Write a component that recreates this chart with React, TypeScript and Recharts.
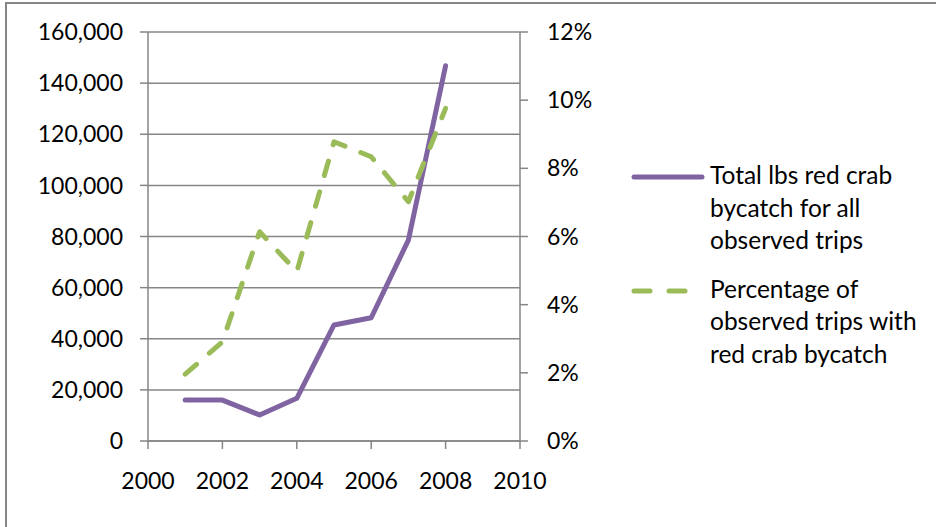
import React from "react";
import { LineChart, Line, XAxis, YAxis, CartesianGrid } from "recharts";

const years = [2001, 2002, 2003, 2004, 2005, 2006, 2007, 2008];
const totalLbs = [16000, 16000, 10200, 16700, 45400, 48200, 78600, 146800];
const pctTrips = [1.96, 2.91, 6.14, 4.97, 8.78, 8.34, 7.02, 9.76];
const xTicks = [2000, 2002, 2004, 2006, 2008, 2010];
const leftTicks = [0, 20000, 40000, 60000, 80000, 100000, 120000, 140000, 160000];
const rightTicks = [0, 2, 4, 6, 8, 10, 12];
const seriesNames = [
  ["Total lbs red crab", "bycatch for all", "observed trips"],
  ["Percentage of", "observed trips with", "red crab bycatch"],
];

const data = years.map((y, i) => ({ year: y, lbs: totalLbs[i], pct: pctTrips[i] }));

const FONT = "Lato, 'Open Sans', sans-serif";
const GRAY = "#868686";
const PURPLE = "#8064A2";
const GREEN = "#9BBB59";

const tickStyle = { fill: "#000", fontSize: 23, fontFamily: FONT };

export default function App() {
  return (
    <div
      style={{
        position: "fixed",
        left: 0,
        top: 0,
        width: 936,
        height: 527,
        overflow: "hidden",
        background: "#fff",
      }}
    >
      <div
        style={{
          position: "absolute",
          left: 5,
          top: 2,
          width: 1200,
          height: 800,
          border: `2px solid ${GRAY}`,
          boxSizing: "border-box",
        }}
      />
      <div style={{ position: "absolute", left: 0, top: 0 }}>
        <LineChart
          width={936}
          height={527}
          data={data}
          margin={{ top: 32, right: 0, bottom: 26, left: 0 }}
        >
          <CartesianGrid
            yAxisId="left"
            vertical={false}
            stroke={GRAY}
            strokeWidth={1.5}
          />
          <XAxis
            dataKey="year"
            type="number"
            domain={[2000, 2010]}
            ticks={xTicks}
            height={60}
            tickSize={8}
            tickMargin={24}
            stroke={GRAY}
            strokeWidth={1.5}
            tick={tickStyle}
            allowDataOverflow
          />
          <YAxis
            yAxisId="left"
            orientation="left"
            domain={[0, 160000]}
            ticks={leftTicks}
            width={148}
            tickSize={8}
            tickMargin={17}
            stroke={GRAY}
            strokeWidth={1.5}
            tick={tickStyle}
            tickFormatter={(v: number) => v.toLocaleString("en-US")}
          />
          <YAxis
            yAxisId="right"
            orientation="right"
            domain={[0, 12]}
            ticks={rightTicks}
            width={416}
            tickSize={8}
            tickMargin={19}
            stroke={GRAY}
            strokeWidth={1.5}
            tick={{ ...tickStyle, textAnchor: "start" }}
            tickFormatter={(v: number) => `${v}%`}
          />
          <Line
            yAxisId="left"
            dataKey="lbs"
            stroke={PURPLE}
            strokeWidth={5}
            strokeLinejoin="round"
            strokeLinecap="round"
            dot={false}
            isAnimationActive={false}
          />
          <Line
            yAxisId="right"
            dataKey="pct"
            stroke={GREEN}
            strokeWidth={5}
            strokeDasharray="15 17"
            strokeLinejoin="round"
            strokeLinecap="round"
            dot={false}
            isAnimationActive={false}
          />
        </LineChart>
      </div>
      <div
        style={{
          position: "absolute",
          left: 630,
          top: 159,
          fontFamily: FONT,
          fontSize: 24.5,
          color: "#000",
          lineHeight: "32.5px",
        }}
      >
        {seriesNames.map((lines, i) => (
          <div key={i} style={{ position: "relative", marginBottom: i === 0 ? 16 : 0 }}>
            <svg
              width={76}
              height={10}
              style={{ position: "absolute", left: 0, top: 13 }}
            >
              <line
                x1={4}
                y1={5}
                x2={i === 0 ? 72 : 58}
                y2={5}
                stroke={i === 0 ? PURPLE : GREEN}
                strokeWidth={5}
                strokeLinecap="round"
                strokeDasharray={i === 0 ? undefined : "16 19"}
              />
            </svg>
            <div style={{ marginLeft: 80 }}>
              {lines.map((t, j) => (
                <div key={j}>{t}</div>
              ))}
            </div>
          </div>
        ))}
      </div>
    </div>
  );
}
